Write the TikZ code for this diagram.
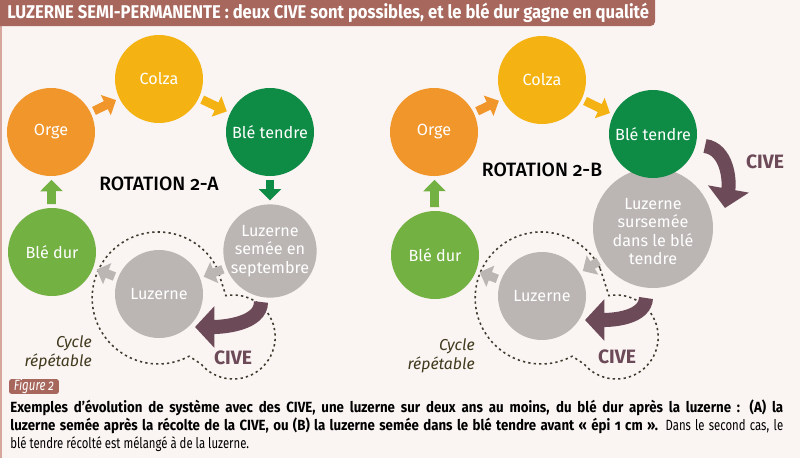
\documentclass[tikz,border=0pt]{standalone}
\usepackage{fontspec}
\setmainfont{Fira Sans}[Numbers=OldStyle]
\newfontfamily\titrefont{Fira Sans}[Numbers=OldStyle,FakeStretch=0.9]
\newfontfamily\capfont{Fira Sans}[Numbers=OldStyle,FakeStretch=0.77]
\newfontfamily\capbfont{Fira Sans}[Numbers=OldStyle,FakeStretch=0.9]
\newfontfamily\medfont{Fira Sans Medium}[Numbers=OldStyle]
\usepackage{xcolor}
\usepackage{tikz}
\usetikzlibrary{positioning,arrows.meta,calc}
\definecolor{fondcol}{HTML}{FAF4F3}
\definecolor{titrecol}{HTML}{A8675C}
\definecolor{orgecol}{HTML}{F0962B}
\definecolor{colzacol}{HTML}{F4B312}
\definecolor{btcol}{HTML}{0E8C45}
\definecolor{bdcol}{HTML}{74B143}
\definecolor{luzcol}{HTML}{BBB6B4}
\definecolor{civecol}{HTML}{6D4A58}
\definecolor{dotcol}{HTML}{3E3C2E}
\definecolor{cyclecol}{HTML}{403A1E}
\definecolor{bordcol}{HTML}{D7A69D}
\tikzset{
  crop/.style={circle,minimum size=1.76cm,inner sep=0pt,align=center,text=white,font=\fontsize{9.2}{10.4}\selectfont},
  bigcrop/.style={crop,minimum size=2.4cm},
  fatarr/.style={line width=5pt,-{Triangle[length=6.5pt,width=12.5pt]},shorten <=2pt,shorten >=2pt},
  cive/.style={draw=civecol,line width=8pt,-{Triangle[length=11pt,width=23pt]}},
  civelab/.style={text=civecol,font=\bfseries\fontsize{11}{13}\selectfont},
  cycleline/.style={draw=dotcol,line width=0.9pt,dash pattern=on 1.3pt off 1.8pt},
  cyc/.style={text=cyclecol,align=right,font=\itshape\fontsize{9}{10.8}\selectfont},
  rot/.style={font=\medfont\fontsize{11}{13}\selectfont},
  titre/.style={text=white,inner sep=0pt,font=\titrefont\bfseries\fontsize{10.5}{12}\selectfont},
  figlab/.style={fill=titrecol,text=white,rounded corners=1.5pt,minimum width=1cm,minimum height=0.28cm,inner sep=0pt,font=\capfont\itshape\fontsize{8.5}{9}\selectfont},
  legende/.style={inner sep=0pt,text=black,font=\capfont\fontsize{8.4}{10}\selectfont},
}
\begin{document}
\begin{tikzpicture}[x=0.02cm,y=-0.02cm]
  \useasboundingbox (0,0) rectangle (800,458);
  \fill[fondcol] (0,0) rectangle (800,458);
  \draw[bordcol,line width=1.2pt] (0.6,0) -- (0.6,458);
  \fill[titrecol] (0,0) -- (655,0) [rounded corners=2.5pt] -- (655,26) [sharp corners] -- (0,26) -- cycle;
  \node[titre,anchor=west] (titre) at (7,13) {LUZERNE SEMI-PERMANENTE : deux CIVE sont possibles, et le blé dur gagne en qualité};

  % rotation 2-A
  \draw[cycleline] (217,268) arc[start angle=-27,end angle=-298,radius=66] -- (201,364) arc[start angle=140,end angle=-100,radius=42] -- cycle;
  \node[crop,fill=orgecol] (orgeA) at (51,132) {Orge};
  \node[crop,fill=colzacol] (colzaA) at (159,79) {Colza};
  \node[crop,fill=btcol] (btA) at (270,132) {Blé tendre};
  \node[crop,fill=luzcol] (semeeA) at (270,251) {Luzerne\\semée en\\septembre};
  \node[crop,fill=luzcol] (luzA) at (159,294) {Luzerne};
  \node[crop,fill=bdcol] (bdA) at (52,252) {Blé dur};
  \node[rot] (rotA) at (159,184) {ROTATION 2-A};
  \draw[fatarr,orgecol] (orgeA) -- (colzaA);
  \draw[fatarr,colzacol] (colzaA) -- (btA);
  \draw[fatarr,btcol] (btA) -- (semeeA);
  \draw[fatarr,luzcol] (semeeA) -- (luzA);
  \draw[fatarr,luzcol] (luzA) -- (bdA);
  \draw[fatarr,bdcol] (bdA) -- (orgeA);
  \draw[cive] ($(semeeA)+(-9,51)$) .. controls +(0,22) and +(28,0) .. ($(luzA)+(36,33)$);
  \node[civelab] (civeA) at (233,358) {CIVE};
  \node[cyc,anchor=east] (cycA) at (98,353) {Cycle\\répétable};

  % rotation 2-B
  \begin{scope}[shift={(383,0)}]
    \draw[cycleline] (217,268) arc[start angle=-27,end angle=-298,radius=66] -- (201,364) arc[start angle=140,end angle=-100,radius=42] -- cycle;
  \end{scope}
  \node[crop,fill=orgecol] (orgeB) at (434,132) {Orge};
  \node[crop,fill=colzacol] (colzaB) at (542,80) {Colza};
  \node[bigcrop,fill=luzcol] (surB) at (653,228) {\\Luzerne\\sursemée\\dans le blé\\tendre};
  \node[crop,fill=btcol] (btB) at (653,134) {Blé tendre};
  \node[crop,fill=luzcol] (luzB) at (542,296) {Luzerne};
  \node[crop,fill=bdcol] (bdB) at (435,255) {Blé dur};
  \node[rot] (rotB) at (542,170) {ROTATION 2-B};
  \draw[fatarr,orgecol] (orgeB) -- (colzaB);
  \draw[fatarr,colzacol] (colzaB) -- (btB);
  \draw[fatarr,luzcol] (surB) -- (luzB);
  \draw[fatarr,luzcol] (luzB) -- (bdB);
  \draw[fatarr,bdcol] (bdB) -- (orgeB);
  \draw[cive] ($(btB)+(52,12)$) .. controls +(22,3) and +(5,-28) .. ($(surB)+(72,-20)$);
  \draw[cive] ($(surB)+(-7,70)$) .. controls +(-1,20) and +(28,0) .. ($(luzB)+(43,24)$);
  \node[civelab] (civeB1) at (765,162) {CIVE};
  \node[civelab] (civeB2) at (617,357) {CIVE};
  \node[cyc,anchor=east] (cycB) at (481,356) {Cycle\\répétable};

  % legende
  \node[figlab] (fig) at (34,386.5) {Figure 2};
  \node[legende,anchor=base west] (leg1) at (10,412) {\makebox[15.46cm][s]{\capbfont\bfseries Exemples d’évolution de système avec des CIVE, une luzerne sur deux ans au moins, du blé dur après la luzerne : (A) la}};
  \node[legende,anchor=base west] (leg2) at (10,430) {\makebox[15.46cm][s]{{\capbfont\bfseries luzerne semée après la récolte de la CIVE, ou (B) la luzerne semée dans le blé tendre avant «~épi 1 cm~».} Dans le second cas, le}};
  \node[legende,anchor=base west] (leg3) at (10,448) {blé tendre récolté est mélangé à de la luzerne.};
\end{tikzpicture}
\end{document}
